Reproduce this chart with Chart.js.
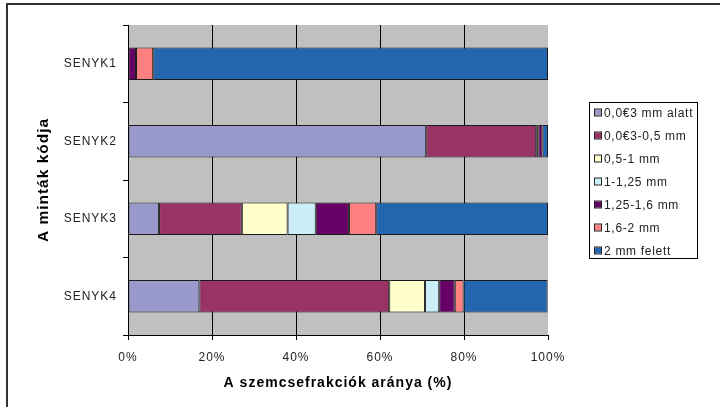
<!DOCTYPE html>
<html>
<head>
<meta charset="utf-8">
<script src="https://cdn.jsdelivr.net/npm/chart.js@4/dist/chart.umd.min.js"></script>
<style>
html,body{margin:0;padding:0;background:#fff;}
#wrap{position:relative;width:720px;height:407px;}
</style>
</head>
<body>
<div id="wrap"><canvas id="c" width="720" height="407"></canvas></div>
<script>
// ---- data ----
const categories = ['SENYK1', 'SENYK2', 'SENYK3', 'SENYK4'];
const fractionLabels = ['0,0€3 mm alatt', '0,0€3-0,5 mm', '0,5-1 mm', '1-1,25 mm', '1,25-1,6 mm', '1,6-2 mm', '2 mm felett'];
const below0063 = [0, 71.0, 7.4, 17.0];
const f0063to05 = [0, 26.2, 19.7, 45.2];
const f05to1 = [0, 0.5, 10.9, 8.5];
const f1to125 = [0, 0, 6.7, 3.4];
const f125to16 = [1.9, 1.0, 7.9, 3.7];
const f16to2 = [4.1, 0, 6.5, 2.1];
const above2 = [94.0, 1.3, 40.9, 20.0];
const xTicks = [0, 20, 40, 60, 80, 100];

const seriesValues = [below0063, f0063to05, f05to1, f1to125, f125to16, f16to2, above2];
const colors = ['#9999cc', '#993366', '#ffffcc', '#cceef8', '#660066', '#ff8080', '#2266b0'];

const FONT = "'Liberation Sans', Arial, sans-serif";

const datasets = seriesValues.map((vals, i) => ({
  label: fractionLabels[i],
  data: vals,
  backgroundColor: colors[i],
  borderColor: '#1a1a1a',
  borderWidth: 1,
  borderSkipped: false,
  categoryPercentage: 1.0,
  barPercentage: 0.42
}));

const framePlugin = {
  id: 'frame',
  beforeDraw(chart) {
    const {ctx, chartArea: a} = chart;
    ctx.save();
    ctx.fillStyle = '#ffffff';
    ctx.fillRect(0, 0, chart.width, chart.height);
    ctx.fillStyle = '#c0c0c0';
    ctx.fillRect(a.left, a.top, a.right - a.left, a.bottom - a.top);
    ctx.strokeStyle = '#333';
    ctx.lineWidth = 2;
    ctx.beginPath();
    ctx.moveTo(7, 410);
    ctx.lineTo(7, 4);
    ctx.lineTo(725, 4);
    ctx.stroke();
    ctx.restore();
    ctx.letterSpacing = '1px';
  },
  afterDraw(chart) {
    const ctx = chart.ctx;
    ctx.save();
    ctx.letterSpacing = '0.7px';
    // legend
    const bx = 589.5, by = 102.5, bw = 108, bh = 156;
    ctx.fillStyle = '#fff';
    ctx.fillRect(bx, by, bw, bh);
    ctx.strokeStyle = '#000';
    ctx.lineWidth = 1;
    ctx.strokeRect(bx, by, bw, bh);
    chart.data.datasets.forEach((ds, i) => {
      const cy = 113 + 23 * i;
      ctx.fillStyle = ds.backgroundColor;
      ctx.fillRect(595, cy - 3.5, 6, 6);
      ctx.strokeStyle = '#222';
      ctx.strokeRect(594.5, cy - 4, 7, 7);
      ctx.fillStyle = '#222';
      ctx.font = "12px " + FONT;
      ctx.textBaseline = 'middle';
      ctx.textAlign = 'left';
      ctx.fillText(ds.label, 604, cy + 0.5);
    });
    ctx.restore();
  }
};

new Chart(document.getElementById('c'), {
  type: 'bar',
  data: { labels: categories, datasets },
  options: {
    indexAxis: 'y',
    responsive: false,
    animation: false,
    devicePixelRatio: 1,
    layout: { padding: { left: 0, top: 25, right: 172, bottom: 0 } },
    plugins: { legend: { display: false }, tooltip: { enabled: false } },
    scales: {
      x: {
        stacked: true,
        min: 0, max: 100,
        afterFit(s) { s.height = 72; },
        afterBuildTicks(s) { s.ticks = xTicks.map(v => ({ value: v })); },
        ticks: {
          callback: v => v + '%',
          color: '#222',
          font: { family: FONT, size: 12 },
          padding: 10,
          maxRotation: 0
        },
        grid: {
          color: c => (c.tick && c.tick.value === 100) ? 'rgba(0,0,0,0)' : '#000',
          tickColor: '#000',
          lineWidth: 1,
          tickLength: 5
        },
        border: { display: true, color: '#000', width: 1 },
        title: {
          display: true,
          text: 'A szemcsefrakciók aránya (%)',
          color: '#000',
          font: { family: FONT, size: 14, weight: 'bold' },
          padding: { top: 0, bottom: 15 }
        }
      },
      y: {
        stacked: true,
        afterFit(s) { s.width = 128; },
        ticks: {
          color: '#222',
          font: { family: FONT, size: 12 },
          padding: 6
        },
        grid: {
          drawOnChartArea: false,
          drawTicks: true,
          tickLength: 5,
          offset: true,
          color: '#000'
        },
        border: { display: true, color: '#000', width: 1 },
        title: {
          display: true,
          text: 'A minták kódja',
          color: '#000',
          font: { family: FONT, size: 15.5, weight: 'bold' },
          padding: { top: 34, bottom: 0 }
        }
      }
    }
  },
  plugins: [framePlugin]
});
</script>
</body>
</html>
